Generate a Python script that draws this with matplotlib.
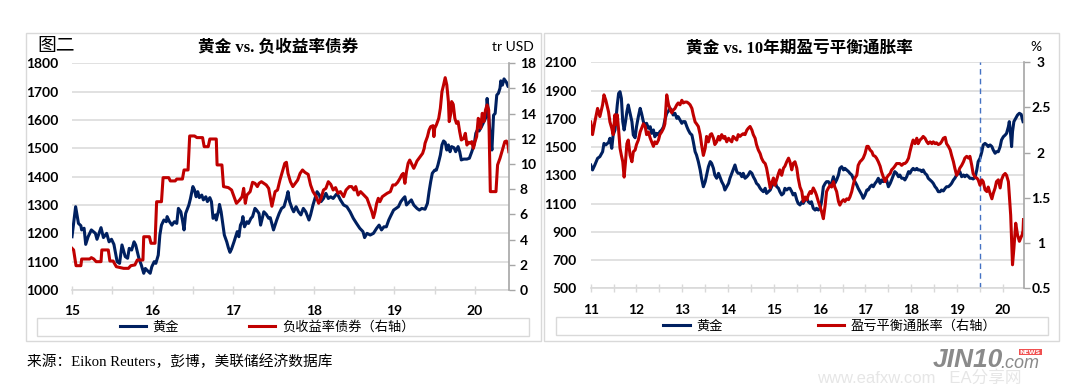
import matplotlib
matplotlib.use('Agg')
import matplotlib.pyplot as plt
import matplotlib.ticker as mtick
from matplotlib.patches import Rectangle

W, H = 1076, 391
NAVY = '#002060'
RED = '#C00000'
GRID = '#d9d9d9'
SPINE = '#a6a6a6'

TICK_FONT = dict(family=['Lato', 'DejaVu Sans'], weight='bold', size=10)
CJK = ['Noto Sans CJK SC']
SERIF_CJK = ['Liberation Serif', 'Noto Sans CJK SC']

# ---- left panel: gold vs negative-yielding debt (years as 15.0 = Jan 2015)
nyd_gold_t = [
    15.00, 15.045, 15.08, 15.11, 15.12, 15.15, 15.17, 15.20, 15.24, 15.29, 15.31, 15.36, 15.39, 15.43,
    15.46, 15.49, 15.52, 15.56, 15.59, 15.62, 15.66, 15.69, 15.71, 15.74, 15.77, 15.79, 15.83, 15.86,
    15.89, 15.91, 15.93, 15.97, 15.99, 16.02, 16.04, 16.07, 16.09, 16.11, 16.14, 16.17, 16.18, 16.21,
    16.24, 16.27, 16.30, 16.32, 16.35, 16.37, 16.39, 16.41, 16.45, 16.47, 16.50, 16.52, 16.54, 16.56,
    16.58, 16.61, 16.63, 16.66, 16.68, 16.71, 16.73, 16.75, 16.78, 16.79, 16.82, 16.83, 16.85, 16.87,
    16.89, 16.92, 16.94, 16.96, 16.98, 17.01, 17.03, 17.05, 17.07, 17.09, 17.11, 17.12, 17.14, 17.17,
    17.19, 17.22, 17.24, 17.27, 17.29, 17.32, 17.34, 17.36, 17.38, 17.41, 17.44, 17.46, 17.50, 17.54,
    17.57, 17.60, 17.63, 17.66, 17.68, 17.70, 17.73, 17.75, 17.78, 17.81, 17.84, 17.87, 17.90, 17.94,
    17.96, 17.99, 18.02, 18.04, 18.07, 18.09, 18.12, 18.15, 18.18, 18.21, 18.24, 18.28, 18.30, 18.33,
    18.37, 18.41, 18.45, 18.49, 18.53, 18.57, 18.61, 18.63, 18.66, 18.70, 18.74, 18.78, 18.81, 18.84,
    18.87, 18.90, 18.93, 18.95, 18.99, 19.02, 19.05, 19.08, 19.11, 19.13, 19.15, 19.19, 19.21, 19.24,
    19.28, 19.31, 19.34, 19.38, 19.41, 19.43, 19.45, 19.47, 19.50, 19.52, 19.54, 19.57, 19.59, 19.61,
    19.63, 19.65, 19.67, 19.69, 19.71, 19.74, 19.76, 19.79, 19.81, 19.83, 19.86, 19.90, 19.93, 19.96,
    19.99, 20.01, 20.03, 20.05, 20.08, 20.11, 20.14, 20.15, 20.17, 20.19, 20.21, 20.22, 20.23, 20.25,
    20.27, 20.29, 20.31, 20.32, 20.34, 20.36, 20.39, 20.41, 20.42,
]
nyd_gold = [
    1188, 1294, 1235, 1227, 1212, 1218, 1161, 1188, 1212, 1200, 1179, 1220, 1185, 1200,
    1170, 1179, 1161, 1100, 1094, 1159, 1118, 1112, 1147, 1141, 1170, 1159, 1112, 1088,
    1059, 1076, 1070, 1059, 1082, 1100, 1094, 1123, 1194, 1229, 1247, 1241, 1259, 1241,
    1229, 1241, 1235, 1288, 1276, 1247, 1212, 1270, 1300, 1323, 1365, 1353, 1329, 1347,
    1326, 1335, 1318, 1329, 1312, 1326, 1312, 1253, 1265, 1247, 1282, 1302, 1276, 1235,
    1194, 1170, 1149, 1133, 1145, 1170, 1188, 1206, 1188, 1229, 1241, 1259, 1223, 1241,
    1235, 1253, 1259, 1288, 1282, 1270, 1229, 1253, 1276, 1267, 1253, 1255, 1212, 1247,
    1270, 1288, 1294, 1323, 1347, 1312, 1288, 1276, 1294, 1276, 1265, 1288, 1276, 1247,
    1265, 1300, 1329, 1347, 1335, 1312, 1323, 1341, 1323, 1329, 1323, 1338, 1335, 1318,
    1300, 1294, 1276, 1253, 1235, 1218, 1206, 1185, 1200, 1194, 1200, 1218, 1229, 1212,
    1223, 1223, 1247, 1259, 1282, 1288, 1294, 1312, 1323, 1329, 1300, 1312, 1318, 1300,
    1288, 1282, 1288, 1285, 1306, 1347, 1382, 1412, 1423, 1423, 1441, 1476, 1512, 1526,
    1521, 1494, 1512, 1488, 1506, 1502, 1488, 1506, 1488, 1459, 1462, 1462, 1465, 1488,
    1514, 1553, 1565, 1561, 1576, 1594, 1612, 1676, 1617, 1535, 1494, 1559, 1617, 1623,
    1688, 1694, 1712, 1738, 1723, 1745, 1733, 1718, 1718,
]
nyd_debt_t = [
    15.00, 15.02, 15.05, 15.11, 15.12, 15.22, 15.24, 15.27, 15.30, 15.36, 15.37, 15.45, 15.47, 15.51,
    15.55, 15.64, 15.70, 15.73, 15.78, 15.81, 15.88, 15.89, 15.96, 15.98, 16.03, 16.05, 16.11, 16.13,
    16.20, 16.22, 16.28, 16.30, 16.37, 16.39, 16.44, 16.46, 16.52, 16.55, 16.62, 16.64, 16.69, 16.71,
    16.79, 16.80, 16.86, 16.88, 16.94, 16.98, 17.01, 17.04, 17.08, 17.11, 17.13, 17.15, 17.17, 17.21,
    17.24, 17.27, 17.30, 17.32, 17.35, 17.38, 17.41, 17.44, 17.48, 17.52, 17.55, 17.58, 17.61, 17.64,
    17.66, 17.68, 17.71, 17.74, 17.77, 17.80, 17.83, 17.86, 17.89, 17.93, 17.96, 17.99, 18.03, 18.06,
    18.09, 18.12, 18.15, 18.18, 18.21, 18.24, 18.27, 18.30, 18.33, 18.37, 18.40, 18.44, 18.47, 18.50,
    18.52, 18.55, 18.58, 18.62, 18.66, 18.69, 18.72, 18.74, 18.76, 18.78, 18.80, 18.82, 18.85, 18.88,
    18.91, 18.95, 18.98, 19.01, 19.04, 19.07, 19.09, 19.11, 19.13, 19.15, 19.17, 19.19, 19.21, 19.24,
    19.26, 19.28, 19.32, 19.35, 19.37, 19.38, 19.41, 19.43, 19.45, 19.48, 19.49, 19.50, 19.52, 19.55,
    19.57, 19.59, 19.61, 19.63, 19.65, 19.67, 19.68, 19.70, 19.71, 19.73, 19.75, 19.77, 19.79, 19.81,
    19.83, 19.86, 19.88, 19.90, 19.92, 19.94, 19.96, 19.98, 20.00, 20.02, 20.04, 20.06, 20.07, 20.09,
    20.11, 20.13, 20.15, 20.17, 20.19, 20.26, 20.28, 20.31, 20.34, 20.37, 20.39, 20.41, 20.42,
]
nyd_debt = [
    3.31, 3.18, 1.93, 1.93, 2.46, 2.46, 2.57, 2.46, 2.25, 2.25, 3.18, 3.18, 2.30, 2.30,
    1.85, 1.72, 1.72, 1.93, 1.99, 2.38, 2.38, 4.23, 4.23, 3.71, 3.71, 7.01, 7.01, 8.92,
    8.92, 8.66, 8.66, 8.81, 8.81, 9.53, 9.53, 12.23, 12.23, 12.10, 12.10, 11.38, 11.38, 11.99,
    11.99, 9.93, 9.93, 8.21, 8.13, 7.94, 7.41, 6.88, 7.15, 7.41, 8.07, 6.88, 7.54, 7.81,
    8.55, 8.47, 8.21, 8.47, 8.60, 8.47, 8.34, 8.07, 6.65, 7.81, 7.94, 8.73, 9.40, 10.06,
    10.14, 9.26, 8.60, 8.21, 8.47, 8.73, 9.26, 9.53, 9.34, 9.18, 8.34, 7.81, 7.41, 6.88,
    7.28, 7.94, 8.07, 8.60, 8.39, 7.94, 8.13, 7.68, 7.81, 7.41, 7.94, 8.21, 8.21, 7.94,
    8.21, 7.54, 7.81, 7.54, 7.28, 6.75, 6.22, 5.74, 6.22, 6.88, 7.28, 7.01, 7.41, 7.54,
    7.68, 7.81, 8.34, 8.34, 8.55, 8.87, 9.13, 9.26, 8.47, 9.40, 10.06, 10.32, 10.06, 9.66,
    9.93, 10.24, 10.59, 10.85, 11.25, 11.65, 12.18, 12.70, 12.97, 13.05, 12.18, 12.84, 13.10, 13.63,
    14.43, 15.75, 16.28, 16.86, 16.28, 14.96, 13.37, 14.03, 14.96, 14.74, 13.63, 13.23, 13.37, 12.57,
    11.91, 12.04, 12.44, 11.51, 11.73, 11.65, 11.78, 11.25, 11.78, 12.18, 13.63, 13.37, 12.84, 14.03,
    13.37, 14.29, 14.69, 14.29, 7.81, 7.81, 9.93, 10.46, 11.12, 11.78, 11.83, 11.51, 10.98,
]

# ---- right panel: gold vs 10y breakeven inflation (11.0 = Jan 2011)
bei_gold_t = [
    11.00, 11.04, 11.09, 11.15, 11.20, 11.26, 11.29, 11.33, 11.39, 11.42, 11.46, 11.49, 11.53, 11.55,
    11.58, 11.61, 11.64, 11.67, 11.70, 11.73, 11.76, 11.79, 11.82, 11.86, 11.90, 11.93, 11.97, 12.00,
    12.04, 12.08, 12.11, 12.15, 12.19, 12.22, 12.26, 12.30, 12.33, 12.37, 12.40, 12.44, 12.48, 12.51,
    12.55, 12.59, 12.62, 12.66, 12.70, 12.73, 12.77, 12.80, 12.84, 12.88, 12.91, 12.95, 12.99, 13.02,
    13.06, 13.10, 13.13, 13.17, 13.21, 13.24, 13.28, 13.31, 13.35, 13.39, 13.42, 13.46, 13.50, 13.53,
    13.57, 13.61, 13.64, 13.68, 13.71, 13.75, 13.79, 13.82, 13.86, 13.90, 13.93, 13.97, 14.01, 14.04,
    14.08, 14.11, 14.15, 14.19, 14.22, 14.26, 14.30, 14.33, 14.37, 14.41, 14.44, 14.48, 14.52, 14.55,
    14.59, 14.62, 14.66, 14.70, 14.73, 14.77, 14.81, 14.84, 14.88, 14.92, 14.95, 14.99, 15.02, 15.06,
    15.10, 15.13, 15.17, 15.21, 15.24, 15.28, 15.32, 15.35, 15.39, 15.42, 15.46, 15.50, 15.53, 15.57,
    15.61, 15.64, 15.68, 15.72, 15.75, 15.79, 15.82, 15.86, 15.90, 15.93, 15.97, 16.01, 16.04, 16.08,
    16.12, 16.15, 16.19, 16.23, 16.26, 16.30, 16.33, 16.37, 16.41, 16.44, 16.48, 16.52, 16.55, 16.59,
    16.63, 16.66, 16.70, 16.73, 16.77, 16.81, 16.84, 16.88, 16.92, 16.95, 16.99, 17.03, 17.06, 17.10,
    17.14, 17.17, 17.21, 17.24, 17.28, 17.32, 17.35, 17.39, 17.43, 17.46, 17.50, 17.54, 17.57, 17.61,
    17.64, 17.68, 17.72, 17.75, 17.79, 17.83, 17.86, 17.90, 17.94, 17.97, 18.01, 18.04, 18.08, 18.12,
    18.15, 18.19, 18.23, 18.26, 18.30, 18.34, 18.37, 18.41, 18.45, 18.48, 18.52, 18.55, 18.59, 18.63,
    18.66, 18.70, 18.74, 18.77, 18.81, 18.85, 18.88, 18.92, 18.95, 18.99, 19.03, 19.06, 19.10, 19.14,
    19.17, 19.21, 19.25, 19.28, 19.32, 19.35, 19.39, 19.43, 19.46, 19.50, 19.54, 19.57, 19.61, 19.65,
    19.68, 19.72, 19.76, 19.79, 19.83, 19.86, 19.90, 19.94, 19.97, 20.01, 20.05, 20.08, 20.12, 20.14,
    20.17, 20.19, 20.21, 20.24, 20.28, 20.32, 20.36, 20.40, 20.42, 20.44,
]
bei_gold = [
    1373, 1338, 1373, 1420, 1432, 1467, 1526, 1515, 1533, 1562, 1491, 1585, 1621, 1692,
    1798, 1880, 1892, 1845, 1680, 1621, 1680, 1750, 1798, 1739, 1680, 1585, 1566, 1644,
    1715, 1774, 1739, 1680, 1644, 1668, 1633, 1644, 1597, 1621, 1573, 1597, 1585, 1609,
    1621, 1644, 1692, 1739, 1755, 1774, 1762, 1727, 1739, 1703, 1715, 1692, 1668, 1680,
    1680, 1644, 1621, 1597, 1585, 1538, 1467, 1444, 1397, 1338, 1279, 1219, 1255, 1302,
    1361, 1397, 1385, 1349, 1302, 1279, 1314, 1290, 1255, 1231, 1196, 1220, 1243, 1279,
    1314, 1338, 1373, 1326, 1314, 1314, 1290, 1314, 1279, 1290, 1302, 1326, 1314, 1290,
    1267, 1243, 1231, 1208, 1196, 1184, 1208, 1172, 1184, 1196, 1220, 1243, 1267, 1220,
    1208, 1184, 1161, 1172, 1208, 1196, 1208, 1208, 1184, 1161, 1172, 1125, 1101, 1090,
    1113, 1101, 1125, 1137, 1113, 1101, 1113, 1066, 1054, 1066, 1054, 1066, 1113, 1219,
    1243, 1255, 1255, 1231, 1243, 1290, 1243, 1267, 1302, 1349, 1361, 1338, 1349, 1338,
    1326, 1314, 1302, 1279, 1255, 1231, 1208, 1184, 1161, 1137, 1161, 1196, 1196, 1219,
    1231, 1219, 1243, 1255, 1279, 1243, 1267, 1255, 1279, 1267, 1219, 1243, 1267, 1302,
    1326, 1314, 1290, 1302, 1279, 1279, 1267, 1290, 1326, 1314, 1338, 1349, 1338, 1349,
    1338, 1338, 1326, 1338, 1314, 1302, 1279, 1267, 1255, 1243, 1219, 1208, 1184, 1184,
    1196, 1189, 1208, 1219, 1219, 1231, 1243, 1267, 1279, 1302, 1314, 1326, 1290, 1302,
    1290, 1302, 1290, 1279, 1279, 1274, 1283, 1338, 1397, 1420, 1467, 1515, 1526, 1515,
    1503, 1515, 1503, 1479, 1456, 1467, 1467, 1503, 1550, 1573, 1585, 1597, 1644, 1680,
    1585, 1503, 1609, 1680, 1703, 1727, 1739, 1731, 1703, 1680,
]
bei_rate_t = bei_gold_t + [20.45]
bei_rate = [
    2.34, 2.20, 2.34, 2.49, 2.40, 2.53, 2.64, 2.58, 2.45, 2.34, 2.27, 2.20, 2.42, 2.31,
    2.42, 2.25, 2.05, 1.97, 1.90, 1.73, 1.90, 2.10, 2.14, 1.97, 1.90, 2.01, 2.03, 2.09,
    2.14, 2.23, 2.27, 2.32, 2.29, 2.20, 2.23, 2.16, 2.12, 2.07, 2.12, 2.10, 2.14, 2.20,
    2.23, 2.27, 2.32, 2.64, 2.53, 2.49, 2.44, 2.47, 2.49, 2.53, 2.55, 2.53, 2.58, 2.55,
    2.56, 2.56, 2.55, 2.53, 2.49, 2.42, 2.34, 2.32, 2.29, 2.20, 2.09, 1.97, 2.05, 2.18,
    2.12, 2.20, 2.21, 2.16, 2.09, 2.12, 2.18, 2.14, 2.20, 2.16, 2.18, 2.12, 2.16, 2.14,
    2.12, 2.18, 2.16, 2.14, 2.20, 2.18, 2.20, 2.21, 2.20, 2.25, 2.27, 2.29, 2.25, 2.20,
    2.16, 2.09, 2.03, 1.99, 1.94, 1.90, 1.88, 1.83, 1.72, 1.61, 1.66, 1.72, 1.64, 1.70,
    1.77, 1.81, 1.75, 1.83, 1.85, 1.90, 1.94, 1.90, 1.81, 1.88, 1.90, 1.83, 1.72, 1.62,
    1.57, 1.46, 1.51, 1.48, 1.53, 1.57, 1.55, 1.61, 1.57, 1.53, 1.46, 1.40, 1.35, 1.27,
    1.42, 1.57, 1.61, 1.64, 1.62, 1.68, 1.62, 1.57, 1.46, 1.42, 1.46, 1.48, 1.46, 1.49,
    1.48, 1.51, 1.57, 1.64, 1.72, 1.75, 1.86, 1.90, 1.92, 1.94, 1.99, 2.07, 2.07, 2.03,
    2.01, 1.97, 1.96, 1.94, 1.90, 1.85, 1.79, 1.73, 1.68, 1.72, 1.75, 1.77, 1.81, 1.83,
    1.85, 1.88, 1.88, 1.88, 1.86, 1.88, 1.88, 1.90, 1.94, 2.01, 2.09, 2.14, 2.10, 2.16,
    2.10, 2.14, 2.16, 2.18, 2.16, 2.12, 2.10, 2.12, 2.10, 2.12, 2.10, 2.11, 2.09, 2.10,
    2.12, 2.16, 2.17, 2.10, 2.07, 2.03, 1.97, 1.90, 1.83, 1.75, 1.79, 1.83, 1.86, 1.90,
    1.94, 1.96, 1.94, 1.96, 1.86, 1.77, 1.73, 1.72, 1.70, 1.64, 1.70, 1.68, 1.59, 1.57,
    1.62, 1.55, 1.49, 1.55, 1.61, 1.68, 1.70, 1.61, 1.70, 1.75, 1.77, 1.75, 1.68, 1.53,
    1.31, 1.02, 0.76, 0.94, 1.22, 1.09, 1.02, 1.07, 1.09, 1.14, 1.26,
]
bei_marker = 19.5

nyd_yticks = list(range(1000, 1801, 100))
nyd_y2ticks = list(range(0, 19, 2))
bei_yticks = list(range(500, 2101, 200))
bei_y2ticks = [0.5, 1, 1.5, 2, 2.5, 3]

panels = [
    dict(title='黄金 vs. 负收益率债券', title_x=278, unit='tr USD', unit_x=513,
         box=(26, 33, 541, 341), rect=(72, 63.3, 508.7, 290),
         xlim=(15, 20.418), ylim=(1000, 1800), yticks=nyd_yticks,
         y2lim=(0, 18), y2ticks=nyd_y2ticks, y2ha='left', y2pad=4,
         gold=(nyd_gold_t, nyd_gold), other=(nyd_debt_t, nyd_debt),
         labels=['黄金', '负收益率债券（右轴）'],
         leg_box=(37, 318, 529, 336), leg_cx=267, colsp=5.3, marker=None),
    dict(title='黄金 vs. 10年期盈亏平衡通胀率', title_x=799, unit='%', unit_x=1036,
         box=(544, 33, 1059, 341), rect=(590.7, 62.3, 1023.5, 288.3),
         xlim=(11, 20.45), ylim=(500, 2100), yticks=bei_yticks,
         y2lim=(0.5, 3), y2ticks=bei_y2ticks, y2ha='center', y2pad=8.5,
         gold=(bei_gold_t, bei_gold), other=(bei_rate_t, bei_rate),
         labels=['黄金', '盈亏平衡通胀率（右轴）'],
         leg_box=(556, 317, 1048, 335), leg_cx=830, colsp=7.2, marker=bei_marker),
]

fig = plt.figure(figsize=(W / 100, H / 100), dpi=100)


def fx(x):
    return x / W


def fy(y):
    return 1 - y / H


def year_label(v, pos):
    return '%d' % round(v) if abs(v - round(v)) < 1e-6 else ''


for p in panels:
    x0, y0, x1, y1 = p['box']
    fig.add_artist(Rectangle((fx(x0), fy(y1)), fx(x1 - x0), (y1 - y0) / H,
                             transform=fig.transFigure, fill=False, ec=GRID, lw=1))
    lx0, ly0, lx1, ly1 = p['leg_box']
    fig.add_artist(Rectangle((fx(lx0), fy(ly1)), fx(lx1 - lx0), (ly1 - ly0) / H,
                             transform=fig.transFigure, fill=False, ec=GRID, lw=1))

    rx0, ry0, rx1, ry1 = p['rect']
    ax = fig.add_axes([fx(rx0), fy(ry1), fx(rx1 - rx0), (ry1 - ry0) / H])
    ax2 = ax.twinx()

    g_line, = ax.plot(*p['gold'], color=NAVY, lw=2.2, solid_joinstyle='round')
    o_line, = ax2.plot(*p['other'], color=RED, lw=2.2, solid_joinstyle='round')

    ax.set_xlim(*p['xlim'])
    ax.set_ylim(*p['ylim'])
    ax2.set_ylim(*p['y2lim'])
    ax.set_yticks(p['yticks'])
    ax2.set_yticks(p['y2ticks'])
    ax2.yaxis.set_major_formatter(mtick.FuncFormatter(lambda v, pos: '%g' % v))
    ax.xaxis.set_major_locator(mtick.MultipleLocator(0.5))
    ax.xaxis.set_major_formatter(mtick.FuncFormatter(year_label))

    ax.grid(axis='y', color=GRID, lw=1.1)
    ax.set_axisbelow(True)
    for s in ['top', 'left', 'right']:
        ax.spines[s].set_visible(False)
    ax.spines['bottom'].set_color(GRID)
    ax.spines['bottom'].set_linewidth(1.2)
    for s in ['top', 'left', 'bottom']:
        ax2.spines[s].set_visible(False)
    ax2.spines['right'].set_color(SPINE)
    ax2.spines['right'].set_linewidth(1.2)

    ax.tick_params(axis='y', length=0, pad=10, labelcolor='black')
    ax.tick_params(axis='x', direction='inout', length=6, width=1, color=GRID, pad=8)
    ax2.tick_params(axis='y', direction='out', length=4, width=1, color=SPINE, pad=p['y2pad'])
    for lab in ax.get_xticklabels() + ax.get_yticklabels() + ax2.get_yticklabels():
        lab.set_fontproperties(matplotlib.font_manager.FontProperties(**TICK_FONT))
    for lab in ax2.get_yticklabels():
        lab.set_horizontalalignment(p['y2ha'])

    if p['marker'] is not None:
        ax.axvline(p['marker'], color='#4472C4', lw=1, ls=(0, (4, 3)))

    fig.text(fx(p['title_x']), fy(48), p['title'],
             ha='center', va='center', fontsize=12, fontweight='bold', family=SERIF_CJK)
    fig.text(fx(p['unit_x']), fy(47), p['unit'], ha='center', va='center',
             fontsize=10, family=['Lato', 'DejaVu Sans'])

    fig.legend([g_line, o_line], p['labels'], loc='center',
               bbox_to_anchor=(fx(p['leg_cx']), fy((ly0 + ly1) / 2)),
               bbox_transform=fig.transFigure, ncol=2, frameon=False,
               handlelength=2.0, handletextpad=0.5, columnspacing=p['colsp'],
               borderpad=0, prop=dict(family=CJK, size=9.5))

fig.text(fx(37), fy(46), '图二', ha='left', va='center', fontsize=13.5, family=SERIF_CJK)
fig.text(fx(27), fy(362), '来源：Eikon Reuters，彭博，美联储经济数据库',
         ha='left', va='center', fontsize=10.6, family=SERIF_CJK)

# watermark
fig.text(fx(933), fy(360), 'JIN10', ha='left', va='center', fontsize=19,
         fontweight='bold', style='italic', color='#8a8a8a', family=['Liberation Sans'])
fig.text(fx(1000), fy(363), '.com', ha='left', va='center', fontsize=13,
         style='italic', color='#8a8a8a', family=['Liberation Sans'])
fig.text(fx(1030), fy(352), 'NEWS', ha='center', va='center', fontsize=4.5,
         fontweight='bold', color='white', family=['DejaVu Sans'],
         bbox=dict(boxstyle='square,pad=0.15', fc='#f05050', ec='none'))
fig.text(fx(817), fy(378), 'www.eafxw.com   EA分享网', ha='left', va='center', fontsize=12,
         color='#e6e6e6', family=['Liberation Sans', 'Noto Sans CJK SC'])

fig.savefig('out.png', dpi=100)
